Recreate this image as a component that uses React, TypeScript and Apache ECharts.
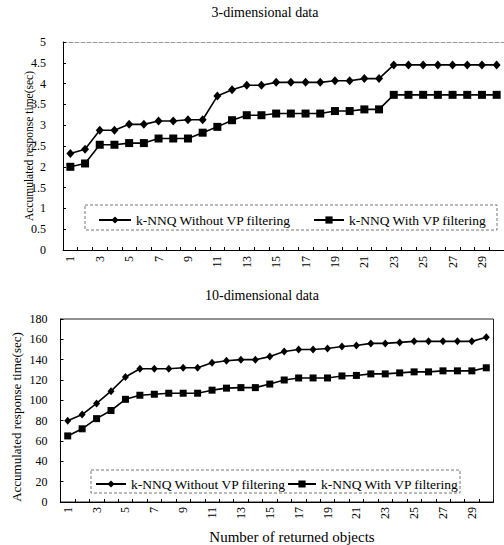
import React, { useEffect, useRef } from "react";
import * as echarts from "echarts";

const categories = [
  "1", "2", "3", "4", "5", "6", "7", "8", "9", "10",
  "11", "12", "13", "14", "15", "16", "17", "18", "19", "20",
  "21", "22", "23", "24", "25", "26", "27", "28", "29", "30",
];

const seriesNames = ["k-NNQ Without VP filtering", "k-NNQ With VP filtering"];

const top3dWithout = [
  2.32, 2.42, 2.88, 2.88, 3.02, 3.02, 3.1, 3.1, 3.13, 3.13,
  3.7, 3.85, 3.96, 3.96, 4.03, 4.03, 4.03, 4.03, 4.07, 4.07,
  4.12, 4.12, 4.45, 4.45, 4.45, 4.45, 4.45, 4.45, 4.45, 4.45,
];
const top3dWith = [
  2.0, 2.08, 2.53, 2.53, 2.57, 2.57, 2.68, 2.68, 2.68, 2.82,
  2.96, 3.12, 3.24, 3.24, 3.28, 3.28, 3.28, 3.28, 3.34, 3.34,
  3.38, 3.38, 3.73, 3.73, 3.73, 3.73, 3.73, 3.73, 3.73, 3.73,
];

const bottom10dWithout = [
  80, 86, 97, 109, 123, 131, 131, 131, 132, 132,
  137, 139, 140, 140, 143, 148, 150, 150, 151, 153,
  154, 156, 156, 157, 158, 158, 158, 158, 158, 162,
];
const bottom10dWith = [
  65, 72, 82, 90, 101, 105, 106, 107, 107, 107,
  110, 112, 112.5, 112.5, 116, 120, 122, 122, 122, 124,
  124.5, 126, 126, 127, 128, 128, 129, 129, 129, 132,
];

const titles = ["3-dimensional data", "10-dimensional data"];
const yTitle = "Accumulated response time(sec)";
const xTitle = "Number of returned objects";

const FONT = "'Liberation Serif', 'Times New Roman', serif";

export default function App() {
  const ref = useRef<HTMLDivElement>(null);

  useEffect(() => {
    if (!ref.current) return;
    const chart = echarts.init(ref.current, null, { renderer: "svg" });

    const labelStyle = { color: "#000", fontFamily: FONT, fontSize: 12 };

    const xCat = (gridIndex: number, margin: number) => ({
      type: "category",
      gridIndex,
      data: categories,
      boundaryGap: true,
      axisLine: { show: true, lineStyle: { color: "#000", width: 1 } },
      axisTick: { show: true, inside: true, length: 3, interval: 0, lineStyle: { color: "#000" } },
      axisLabel: { ...labelStyle, interval: 1, rotate: 90, margin },
      splitLine: { show: false },
    });

    const legendText = { color: "#000", fontFamily: FONT, fontSize: 13.5 };
    const mkLegend = (name: string, left: number, top: number, w: number) => ({
      data: [name],
      left,
      top,
      padding: 0,
      itemWidth: w,
      itemHeight: 9,
      selectedMode: false,
      textStyle: legendText,
    });

    const lineSeries = (
      name: string,
      data: number[],
      idx: number,
      symbol: string,
      size: number | number[]
    ) => ({
      type: "line",
      name,
      data,
      xAxisIndex: idx === 0 ? 0 : 2,
      yAxisIndex: idx,
      symbol,
      symbolSize: size,
      showSymbol: true,
      lineStyle: { color: "#000", width: 1.6 },
      itemStyle: { color: "#000" },
      emphasis: { disabled: true },
    });

    const titleStyle = { color: "#000", fontFamily: FONT, fontSize: 14, fontWeight: "normal" };

    chart.setOption({
      animation: false,
      backgroundColor: "#fff",
      textStyle: { fontFamily: FONT },
      title: [
        { text: titles[0], left: 260, top: 0, textAlign: "center", textStyle: titleStyle },
        { text: titles[1], left: 257, top: 283, textAlign: "center", textStyle: titleStyle },
      ],
      grid: [
        { left: 63, top: 42, width: 443.5, height: 208, show: false },
        {
          left: 60.5,
          top: 319,
          width: 433,
          height: 183,
          show: true,
          borderColor: "#222",
          borderWidth: 1,
        },
      ],
      xAxis: [
        xCat(0, 6),
        {
          type: "category",
          gridIndex: 0,
          position: "top",
          data: categories,
          axisLine: { show: true, lineStyle: { color: "#999", type: "dashed", width: 1 } },
          axisTick: { show: false },
          axisLabel: { show: false },
        },
        xCat(1, 5),
      ],
      yAxis: [
        {
          type: "value",
          gridIndex: 0,
          min: 0,
          max: 5,
          interval: 0.5,
          axisLine: { show: true, lineStyle: { color: "#000" } },
          axisTick: { show: true, inside: true, length: 3, lineStyle: { color: "#000" } },
          axisLabel: { ...labelStyle, margin: 17 },
          splitLine: { show: false },
        },
        {
          type: "value",
          gridIndex: 1,
          min: 0,
          max: 180,
          interval: 20,
          axisLine: { show: true, lineStyle: { color: "#000" } },
          axisTick: { show: true, inside: true, length: 3, lineStyle: { color: "#000" } },
          axisLabel: { ...labelStyle, margin: 13 },
          splitLine: { show: false },
        },
      ],
      legend: [
        mkLegend(seriesNames[0], 98, 213, 32),
        mkLegend(seriesNames[1], 313, 213, 30),
        mkLegend(seriesNames[0], 95, 477, 30),
        mkLegend(seriesNames[1], 287, 477, 28),
      ],
      graphic: [
        {
          type: "rect",
          shape: { x: 85, y: 205, width: 412, height: 25 },
          style: { fill: "none", stroke: "#777", lineWidth: 1, lineDash: [3, 2] },
          silent: true,
        },
        {
          type: "rect",
          shape: { x: 91, y: 470, width: 369, height: 23 },
          style: { fill: "none", stroke: "#777", lineWidth: 1, lineDash: [3, 2] },
          silent: true,
        },
        {
          type: "text",
          x: 29,
          y: 146,
          rotation: Math.PI / 2,
          style: {
            text: yTitle,
            align: "center",
            verticalAlign: "middle",
            fill: "#000",
            font: `11.5px ${FONT}`,
          },
          silent: true,
        },
        {
          type: "text",
          x: 16,
          y: 417,
          rotation: Math.PI / 2,
          style: {
            text: yTitle,
            align: "center",
            verticalAlign: "middle",
            fill: "#000",
            font: `13px ${FONT}`,
          },
          silent: true,
        },
        {
          type: "text",
          x: 292,
          y: 537,
          style: {
            text: xTitle,
            align: "center",
            verticalAlign: "middle",
            fill: "#000",
            font: `15px ${FONT}`,
          },
          silent: true,
        },
      ],
      series: [
        lineSeries(seriesNames[0], top3dWithout, 0, "diamond", [8, 9]),
        lineSeries(seriesNames[1], top3dWith, 0, "rect", 8),
        lineSeries(seriesNames[0], bottom10dWithout, 1, "diamond", [7, 8]),
        lineSeries(seriesNames[1], bottom10dWith, 1, "rect", 7),
      ],
    });

    return () => chart.dispose();
  }, []);

  return (
    <div
      ref={ref}
      style={{ position: "absolute", left: 0, top: 0, width: 504, height: 545 }}
    />
  );
}
